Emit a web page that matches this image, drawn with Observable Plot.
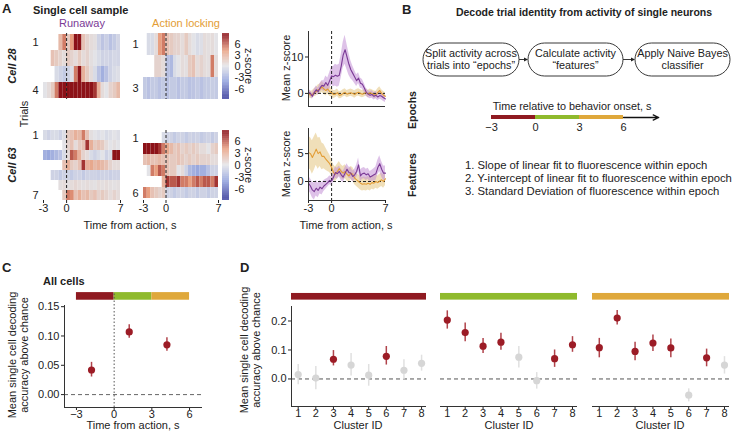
<!DOCTYPE html>
<html><head><meta charset="utf-8">
<script src="https://cdn.jsdelivr.net/npm/d3@7"></script>
<script src="https://cdn.jsdelivr.net/npm/@observablehq/plot@0.6"></script>
<style>
body{margin:0;background:#fff;}
#root{position:relative;width:733px;height:431px;overflow:hidden;font-family:"Liberation Sans",Arial,sans-serif;color:#222;}
#root svg{position:absolute;max-width:none;}
</style></head><body><div id="root"></div>
<script>
// ---------------- DATA ----------------
// Heatmap time bins (start of each 0.5 s bin, seconds from action)
const binStarts = [-3,-2.5,-2,-1.5,-1,-0.5,0,0.5,1,1.5,2,2.5,3,3.5,4,4.5,5,5.5,6,6.5];
// z-scores per trial (null = before trial start)
const cell28Runaway = [
  [null,null,null,null,2.5,5,1.5,4,8,8,2,1,0.5,0.3,-1,-1.8,-1.2,-2,-1.5,-0.8],
  [null,null,2,1.5,1,0.5,1.5,1,0.5,1.5,0.5,1,0.3,0,-0.5,-1,-0.8,-1,-0.7,-0.8],
  [null,null,null,-0.5,-1,-1.5,-1,-0.3,5,8,3,1.5,0.5,-0.5,-2,-3,-2,-1,-0.5,-0.3],
  [0,0.5,1.5,5,8,8,8,8,8,8,8,8,8,7,3,0.5,0,1,1.5,2.5]
];
const cell28Locking = [
  [null,-0.5,-0.5,0.5,4,5,2,1.5,1,1,0.5,1.5,0.5,0,-0.5,-0.3,0.5,0.3,0.5,0],
  [null,null,null,1,1,0.5,-2,-2.5,-0.5,0,0.5,0.3,1.5,2,0.5,1,0.5,0.3,5,0.5],
  [-1.5,-2,-1.5,-1.5,-2,-1.5,-2,-1.5,-1.5,-2,-1.5,-1.5,-2,-1.8,-1.5,-2,-1.5,-1.5,-1.3,-1.5]
];
const cell63Runaway = [
  [-0.5,-1,-0.5,-0.5,-1,-0.3,1.5,2,3,2.5,5,2,0.3,0,-0.3,0,-0.5,-0.3,0,-0.3],
  [null,null,null,null,null,0,1,2,0.5,1.5,2,7,3,1.5,2,1.5,0.5,0,0.3,0],
  [-3,-3.5,-3,-2.5,-2,-0.5,0.5,6,5,3,1,0.5,-0.5,-1,-0.5,0,-1,-0.5,8,8],
  [null,null,null,null,null,2,3,1.5,1,2,7,3,3.5,2.5,3,2.5,2,1,0.5,0.5],
  [null,null,-1,-1,-1.5,-1,-1,-1.5,-1,-1,-1.5,-1,-1,-1,-1.2,-1,-1,-1.2,-1,-1],
  [null,null,null,null,0.3,0.5,0.3,0.5,0.8,0.5,0.3,0.5,0.3,0.2,0.5,0.3,0.5,0.3,0.2,0.3],
  [null,null,null,null,null,1.5,5,4.5,2,3,2,2.5,1.5,2,1,1.5,1,0.5,1,0.5]
];
const cell63Locking = [
  [null,null,null,null,null,-0.5,-1,-1,-1.5,-1,-1,-1.5,-1,-1.2,-1,-1.5,-1.2,-1,-1.5,-1],
  [8,8,8,8,7,5,3.5,2.5,1.5,2,1,1.5,1,1.5,1,0.5,0.5,0,1,1.5],
  [2,2.5,2,2,2.5,2,2,1.5,1.5,2,1.5,1,1.5,1,1.5,1,1,1,0.5,0.5],
  [null,0,5,4,6,5,2,1.5,1.5,0,0.5,-1,-2.5,-3,-3.5,-3,-3,-2,-1,-1],
  [null,null,null,null,null,3,7,6,6,7,5,5,4,5,6,5,6,6,5,7],
  [5,4,2,1.5,1,1.5,-1,-1,-1.5,-1,-1,-1.5,-1,-1,-1.5,-1,-1,-1.5,-1,-1]
];
const zTicks = [-6,-3,0,3,6];

// Mean z-score traces (0.25 s steps)
const tLine = [-3,-2.75,-2.5,-2.25,-2,-1.75,-1.5,-1.25,-1,-0.75,-0.5,-0.25,0,0.25,0.5,0.75,1,1.25,1.5,1.75,2,2.25,2.5,2.75,3,3.25,3.5,3.75,4,4.25,4.5,4.75,5,5.25,5.5,5.75,6,6.25,6.5,6.75,7];
const c28RunMean = [0.3,0,-0.8,0.2,1.0,0.5,1.5,2.2,2.0,3.0,2.2,3.5,4.8,4.6,5.0,4.7,5.0,7.5,10.5,12.0,10.0,8.0,6.5,5.5,4.5,3.5,4.2,2.8,2.5,1.5,0.3,-0.2,-0.5,-0.3,-0.8,-0.5,-1.0,-0.6,-0.8,-1.2,-1.5];
const c28RunSem  = [0.8,0.8,0.8,0.9,1,1,1.2,1.3,1.5,1.8,2,2.2,2.5,2.8,3,3,3,3.2,3.5,4,3.5,3,2.5,2,1.8,1.6,1.5,1.4,1.3,1.2,1.1,1,1,1,1,1,1,1,1,1,1];
const c28LockMean = [0,-0.5,-0.3,0.2,0.5,1.0,1.2,1.8,1.2,0.8,1.2,0.5,0.2,-0.3,-0.2,0.2,-0.5,-0.4,0,0.3,-0.2,0,0.2,0,-0.3,0.1,0.3,0,-0.2,0,0.3,-0.2,0.2,0,-0.3,-0.5,0.3,0.8,0,-0.5,-0.8];
const c28LockSem  = [1,1,1,1.1,1.2,1.3,1.4,1.5,1.5,1.5,1.4,1.3,1.2,1.1,1,1,1,1,1,1,1,1,1,1,1,1,1,1,1,1,1,1,1,1,1,1,1,1,1,1,1];
const c63RunMean = [-0.3,-0.8,-1.5,-1.8,-1.2,-1.6,-1.0,-1.3,-0.8,-0.5,-0.2,0.2,0.1,0.8,1.6,1.4,1.8,1.2,0.8,1.5,2.2,1.6,1.5,0.9,1.2,1.8,3.0,1.0,1.4,1.5,1.2,1.4,0.8,1.0,1.2,1.4,2.5,3.2,2.2,1.5,1.5];
const c63RunSem  = [1.3,1.3,1.4,1.5,1.4,1.3,1.2,1.1,1,0.9,0.8,0.8,0.8,0.9,1,1,1,1,1,1,1,1,1,1,1,1.1,1.2,1.1,1,1,1,1,1,1,1.1,1.2,1.3,1.4,1.4,1.3,1.3];
const c63LockMean = [5.2,5.0,4.3,5.0,5.8,5.0,5.3,4.5,4.5,4.0,3.6,3.2,2.5,1.6,1.3,1.8,2.3,1.8,1.5,1.8,1.3,1.0,1.5,1.3,0.6,0.3,0.0,-0.3,-0.5,-0.4,-0.5,-0.3,-0.5,-0.2,-0.3,0,-0.2,0.1,0.3,0,0.5];
const c63LockSem  = [2.8,2.9,3,3,2.9,2.8,2.6,2.4,2.2,2,1.8,1.6,1.5,1.4,1.3,1.3,1.3,1.2,1.2,1.2,1.2,1.2,1.2,1.2,1.2,1.2,1.2,1.2,1.2,1.2,1.2,1.2,1.2,1.2,1.2,1.2,1.2,1.2,1.2,1.2,1.2];

// Epochs
const epochNames = ["pre","early","late"];
const epochStart = [-3,0,3];
const epochEnd = [0,3,6];
const epochColors = ["#8f1a21","#8fba2d","#dfa83b"];
const epochTicks = [-3,0,3,6];

// Panel C: all cells
const cTime = [-1.8,1.2,4.2];
const cMean = [0.042,0.107,0.085];
const cLo = [0.030,0.096,0.074];
const cHi = [0.055,0.119,0.097];

// Panel D: per cluster
const clusterIds = [1,2,3,4,5,6,7,8];
const dMean = [
  [0.015,0.003,0.068,0.048,0.013,0.078,0.030,0.054],
  [0.203,0.160,0.113,0.127,0.075,-0.006,0.070,0.118],
  [0.108,0.210,0.095,0.124,0.107,-0.056,0.073,0.048]
];
const dLo = [
  [-0.020,-0.037,0.045,0.010,-0.025,0.048,-0.003,0.027],
  [0.172,0.128,0.088,0.099,0.038,-0.035,0.040,0.092],
  [0.073,0.186,0.063,0.095,0.073,-0.079,0.042,0.017]
];
const dHi = [
  [0.050,0.043,0.098,0.088,0.050,0.112,0.066,0.082],
  [0.235,0.193,0.140,0.158,0.112,0.022,0.100,0.146],
  [0.140,0.236,0.127,0.152,0.138,-0.034,0.103,0.077]
];
const dSig = [
  [0,0,1,0,0,1,0,0],
  [1,1,1,1,0,0,1,1],
  [1,1,1,1,1,0,1,0]
];

// ---------------- STYLE ----------------
const FONT = '"Liberation Sans", Arial, sans-serif';
const INK = "#222";
const PURPLE = "#7b3a96", ORANGE = "#e39d35";
const SIGRED = "#9c1c26", SIGBAR = "#b0434b", NSDOT = "#d6d6d6", NSBAR = "#e0e0e0";
const cDomain = [-8,-4,0,4,8];
const cRange = ["#3b3f9e","#8e9fdc","#e3e3e7","#e89f80","#8c1218"];
const root = document.getElementById("root");
const baseStyle = {fontFamily: FONT, fontSize: "11px", color: INK, background: "transparent", overflow: "visible"};

function place(svg, fx, fy, ml, mt) {
  svg.style.left = (fx - ml) + "px";
  svg.style.top = (fy - mt) + "px";
  root.appendChild(svg);
}

// ---------------- PANEL A: heatmaps ----------------
function heatmap(rows, fx, fy, fw, fh, showX) {
  const ml = 16, mr = 1, mt = 1, mb = showX ? 18 : 1;
  const n = rows.length;
  const data = [];
  rows.forEach((r, i) => r.forEach((v, j) => {
    if (v !== null) data.push({row: i + 1, t0: binStarts[j], t1: binStarts[j] + 0.5, v});
  }));
  const svg = Plot.plot({
    width: fw + ml + mr, height: fh + mt + mb,
    marginLeft: ml, marginRight: mr, marginTop: mt, marginBottom: mb,
    style: baseStyle,
    x: {domain: [-3, 7], axis: showX ? "bottom" : null, ticks: [-3, 0, 7], tickFormat: d => String(d), tickSize: 3, tickPadding: 1, label: null},
    y: {domain: rows.map((_, i) => i + 1), padding: 0, tickSize: 0, tickPadding: 5, tickFormat: d => (d === 1 || d === n) ? String(d) : "", label: null},
    color: {type: "linear", domain: cDomain, range: cRange, clamp: true},
    marks: [
      Plot.barX(data, {x1: "t0", x2: "t1", y: "row", fill: "v"}),
      Plot.ruleX([0], {stroke: INK, strokeDasharray: "3,2", strokeWidth: 1})
    ]
  });
  place(svg, fx, fy, ml, mt);
}

function colorbar(fx, fy, fw, fh) {
  const ml = 0, mr = 22, mt = 0, mb = 0;
  const stops = d3.range(-8.8, 8.8, 0.1);
  const svg = Plot.plot({
    width: fw + ml + mr, height: fh + mt + mb,
    marginLeft: ml, marginRight: mr, marginTop: mt, marginBottom: mb,
    style: baseStyle,
    x: {domain: [0, 1], axis: null},
    y: {domain: [-8.8, 8.8], axis: "right", ticks: zTicks, tickFormat: d => String(d), tickSize: 0, tickPadding: 5, label: null},
    color: {type: "linear", domain: cDomain, range: cRange, clamp: true},
    marks: [
      Plot.rect(stops, {x1: 0, x2: 1, y1: d => d, y2: d => Math.min(d + 0.13, 8.8), fill: d => d})
    ]
  });
  place(svg, fx, fy, ml, mt);
}

heatmap(cell28Runaway, 43, 33, 77, 66, false);
heatmap(cell28Locking, 143, 33, 75, 66, false);
heatmap(cell63Runaway, 43, 130, 77, 70, true);
heatmap(cell63Locking, 143, 130, 75, 70, true);
colorbar(222, 33, 7, 66);
colorbar(222, 130, 7, 70);

// ---------------- PANEL A: mean traces ----------------
function tracePlot(runM, runS, lockM, lockS, fx, fy, fw, fh, ydom, yticks, showX) {
  const ml = 22, mr = 2, mt = 1, mb = showX ? 18 : 1;
  const run = tLine.map((t, i) => ({t, m: runM[i], s: runS[i]}));
  const lock = tLine.map((t, i) => ({t, m: lockM[i], s: lockS[i]}));
  const svg = Plot.plot({
    width: fw + ml + mr, height: fh + mt + mb,
    marginLeft: ml, marginRight: mr, marginTop: mt, marginBottom: mb,
    style: baseStyle,
    x: {domain: [-3, 7], axis: showX ? "bottom" : null, ticks: [-3, 0, 7], tickFormat: d => String(d), tickSize: 3, tickPadding: 1, label: null},
    y: {domain: ydom, ticks: yticks, tickFormat: d => String(d), tickSize: 3, tickPadding: 2, label: null},
    marks: [
      Plot.areaY(lock, {x: "t", y1: d => d.m - d.s, y2: d => d.m + d.s, fill: "#e6c98a", fillOpacity: 0.6}),
      Plot.areaY(run, {x: "t", y1: d => d.m - d.s, y2: d => d.m + d.s, fill: "#c38fd6", fillOpacity: 0.55}),
      Plot.ruleY([0], {stroke: INK, strokeDasharray: "3,2", strokeWidth: 1}),
      Plot.ruleX([0], {stroke: INK, strokeDasharray: "3,2", strokeWidth: 1}),
      Plot.lineY(lock, {x: "t", y: "m", stroke: ORANGE, strokeWidth: 1.1}),
      Plot.lineY(run, {x: "t", y: "m", stroke: PURPLE, strokeWidth: 1.1}),
      Plot.ruleX([-3], {stroke: "#333", strokeWidth: 1}),
      Plot.ruleY([ydom[0]], {stroke: "#333", strokeWidth: 1})
    ]
  });
  place(svg, fx, fy, ml, mt);
}
tracePlot(c28RunMean, c28RunSem, c28LockMean, c28LockSem, 308, 31, 77, 75, [-3.6, 17], [0, 10], false);
tracePlot(c63RunMean, c63RunSem, c63LockMean, c63LockSem, 308, 128, 77, 72, [-3.4, 9.5], [0, 5], true);

// ---------------- PANEL B: epoch axis ----------------
(function () {
  const fx = 491, fy = 113, fw = 176, fh = 8;
  const ml = 8, mr = 4, mt = 2, mb = 14;
  const ep = epochNames.map((e, i) => ({s: epochStart[i], e: epochEnd[i], c: epochColors[i]}));
  const svg = Plot.plot({
    width: fw + ml + mr, height: fh + mt + mb,
    marginLeft: ml, marginRight: mr, marginTop: mt, marginBottom: mb,
    style: baseStyle,
    x: {domain: [-3, 9], ticks: epochTicks, tickSize: 0, tickPadding: 2, label: null},
    y: {domain: [0, 1], axis: null},
    color: {type: "identity"},
    marks: [
      Plot.rect(ep, {x1: "s", x2: "e", y1: 0.25, y2: 0.75, fill: "c"}),
      Plot.arrow([{a: 6, b: 8.4}], {x1: "a", x2: "b", y1: 0.5, y2: 0.5, stroke: "#111", strokeWidth: 1.3, headLength: 7, headAngle: 50})
    ]
  });
  place(svg, fx, fy, ml, mt);
})();

// ---------------- PANEL C ----------------
(function () {
  const fx = 64, fy = 305, fw = 138, fh = 102;
  const ml = 40, mr = 4, mt = 14, mb = 14;
  const ydom = [-0.022, 0.152];
  const ep = epochNames.map((e, i) => ({s: epochStart[i], e: epochEnd[i], c: epochColors[i]}));
  const pts = cTime.map((t, i) => ({t, m: cMean[i], lo: cLo[i], hi: cHi[i]}));
  const svg = Plot.plot({
    width: fw + ml + mr, height: fh + mt + mb,
    marginLeft: ml, marginRight: mr, marginTop: mt, marginBottom: mb,
    style: baseStyle,
    x: {domain: [-3.95, 7.03], ticks: epochTicks, tickSize: 3, tickPadding: 0, label: null},
    y: {domain: ydom, ticks: [0, 0.05, 0.1, 0.15], tickFormat: d3.format(".2f"), tickSize: 3, tickPadding: 2, label: null},
    color: {type: "identity"},
    marks: [
      Plot.rect(ep, {x1: "s", x2: "e", y1: 0.161, y2: 0.174, fill: "c"}),
      Plot.ruleY([0], {stroke: "#666", strokeDasharray: "4,3", strokeWidth: 1}),
      Plot.ruleX([0], {y1: ydom[0], y2: 0.174, stroke: "#555", strokeDasharray: "1.5,2", strokeWidth: 1}),
      Plot.ruleX(pts, {x: "t", y1: "lo", y2: "hi", stroke: SIGBAR, strokeWidth: 1.5}),
      Plot.dot(pts, {x: "t", y: "m", r: 3.6, fill: SIGRED}),
      Plot.ruleX([-3.95], {stroke: "#333", strokeWidth: 1}),
      Plot.ruleY([ydom[0]], {stroke: "#333", strokeWidth: 1})
    ]
  });
  place(svg, fx, fy, ml, mt);
})();

// ---------------- PANEL D ----------------
function clusterPlot(k, fx, showY) {
  const fy = 306, fw = fx === 291 ? 135 : 137, fh = 100;
  const ml = showY ? 38 : 2, mr = 3, mt = 14, mb = 14;
  const ydom = [-0.095, 0.25];
  const pts = clusterIds.map((c, i) => ({c, m: dMean[k][i], lo: dLo[k][i], hi: dHi[k][i], sig: dSig[k][i]}));
  const marks = [
    Plot.rect([{c: epochColors[k]}], {x1: 0.62, x2: 8.28, y1: 0.272, y2: 0.295, fill: "c"}),
    Plot.ruleY([0], {stroke: "#555", strokeDasharray: "4,3", strokeWidth: 1}),
    Plot.ruleX(pts, {x: "c", y1: "lo", y2: "hi", stroke: d => d.sig ? SIGBAR : NSBAR, strokeWidth: 1.5}),
    Plot.dot(pts, {x: "c", y: "m", r: 3.6, fill: d => d.sig ? SIGRED : NSDOT}),
    Plot.ruleY([ydom[0]], {stroke: "#333", strokeWidth: 1})
  ];
  if (showY) marks.push(Plot.ruleX([0.62], {stroke: "#333", strokeWidth: 1}));
  const svg = Plot.plot({
    width: fw + ml + mr, height: fh + mt + mb,
    marginLeft: ml, marginRight: mr, marginTop: mt, marginBottom: mb,
    style: baseStyle,
    x: {domain: [0.62, 8.28], ticks: clusterIds, tickFormat: d => String(d), tickSize: 3, tickPadding: 0, label: null},
    y: {domain: ydom, axis: showY ? "left" : null, ticks: [0, 0.1, 0.2], tickFormat: d3.format(".1f"), tickSize: 3, tickPadding: 2, label: null},
    color: {type: "identity"},
    marks
  });
  place(svg, fx, fy, ml, mt);
}
clusterPlot(0, 291, true);
clusterPlot(1, 440, false);
clusterPlot(2, 592, false);

// ---------------- Annotation layer ----------------
const ov = d3.create("svg").attr("width", 733).attr("height", 431)
  .style("left", "0px").style("top", "0px").style("pointer-events", "none")
  .attr("font-family", FONT);
root.appendChild(ov.node());
function T(s, x, y, o = {}) {
  const t = ov.append("text").attr("x", x).attr("y", y).text(s)
    .attr("text-anchor", o.anchor || "start").attr("dominant-baseline", "middle")
    .attr("font-size", o.size || 11).attr("fill", o.color || INK);
  if (o.bold) t.attr("font-weight", "bold");
  if (o.italic) t.attr("font-style", "italic");
  if (o.rot) t.attr("transform", `rotate(${o.rot},${x},${y})`);
  return t;
}
// Panel A
T("A", 2, 10, {bold: true, size: 13});
T("Single cell sample", 33, 11, {bold: true, size: 11});
T("Runaway", 82, 24, {anchor: "middle", color: PURPLE});
T("Action locking", 186, 24, {anchor: "middle", color: ORANGE});
T("Cell 28", 13, 66, {anchor: "middle", bold: true, italic: true, rot: -90});
T("Cell 63", 13, 165, {anchor: "middle", bold: true, italic: true, rot: -90});
T("Trials", 25, 114, {anchor: "middle", rot: -90});
T("z-score", 248, 66, {anchor: "middle", rot: 90});
T("z-score", 248, 165, {anchor: "middle", rot: 90});
T("Time from action, s", 130, 226, {anchor: "middle"});
T("Mean z-score", 287, 68, {anchor: "middle", rot: -90});
T("Mean z-score", 287, 164, {anchor: "middle", rot: -90});
T("Time from action, s", 346, 226, {anchor: "middle"});
// Panel B
T("B", 402, 11, {bold: true, size: 13});
T("Decode trial identity from activity of single neurons", 584, 13, {anchor: "middle", bold: true, size: 10.5});
const boxes = [
  {x: 423, w: 96, l1: "Split activity across", l2: "trials into \u201cepochs\u201d"},
  {x: 528, w: 95, l1: "Calculate activity", l2: "\u201cfeatures\u201d"},
  {x: 635, w: 95, l1: "Apply Naive Bayes", l2: "classifier"}
];
const by = 43, bh = 33;
boxes.forEach(b => {
  ov.append("rect").attr("x", b.x).attr("y", by).attr("width", b.w).attr("height", bh)
    .attr("rx", bh / 2).attr("ry", bh / 2).attr("fill", "none").attr("stroke", "#222").attr("stroke-width", 0.9);
  T(b.l1, b.x + b.w / 2, by + 11, {anchor: "middle", size: 10.8});
  T(b.l2, b.x + b.w / 2, by + 23, {anchor: "middle", size: 10.8});
});
[[519, 528], [623, 635]].forEach(([a, b]) => {
  const y = by + bh / 2;
  ov.append("line").attr("x1", a).attr("x2", b - 3).attr("y1", y).attr("y2", y).attr("stroke", "#222").attr("stroke-width", 0.9);
  ov.append("path").attr("d", `M${b},${y} L${b - 4},${y - 2} L${b - 4},${y + 2} Z`).attr("fill", "#222");
});
T("Epochs", 413, 110, {anchor: "middle", bold: true, size: 10.5, rot: -90});
T("Features", 413, 175, {anchor: "middle", bold: true, size: 10.5, rot: -90});
T("Time relative to behavior onset, s", 572, 107, {anchor: "middle", size: 10.8});
T("1. Slope of linear fit to fluorescence within epoch", 465, 166, {size: 11.3});
T("2. Y-intercept of linear fit to fluorescence within epoch", 465, 179, {size: 11.3});
T("3. Standard Deviation of fluorescence within epoch", 465, 192, {size: 11.3});
// Panel C
T("C", 2, 269, {bold: true, size: 13});
T("All cells", 43, 282, {bold: true, size: 11});
T("Mean single cell decoding", 13, 355, {anchor: "middle", rot: -90});
T("accuracy above chance", 25, 355, {anchor: "middle", rot: -90});
T("Time from action, s", 133, 426, {anchor: "middle"});
// Panel D
T("D", 240, 269, {bold: true, size: 13});
T("Mean single cell decoding", 245, 350, {anchor: "middle", rot: -90});
T("accuracy above chance", 257, 350, {anchor: "middle", rot: -90});
T("Cluster ID", 358, 426, {anchor: "middle"});
T("Cluster ID", 509, 426, {anchor: "middle"});
T("Cluster ID", 660, 426, {anchor: "middle"});
</script></body></html>
